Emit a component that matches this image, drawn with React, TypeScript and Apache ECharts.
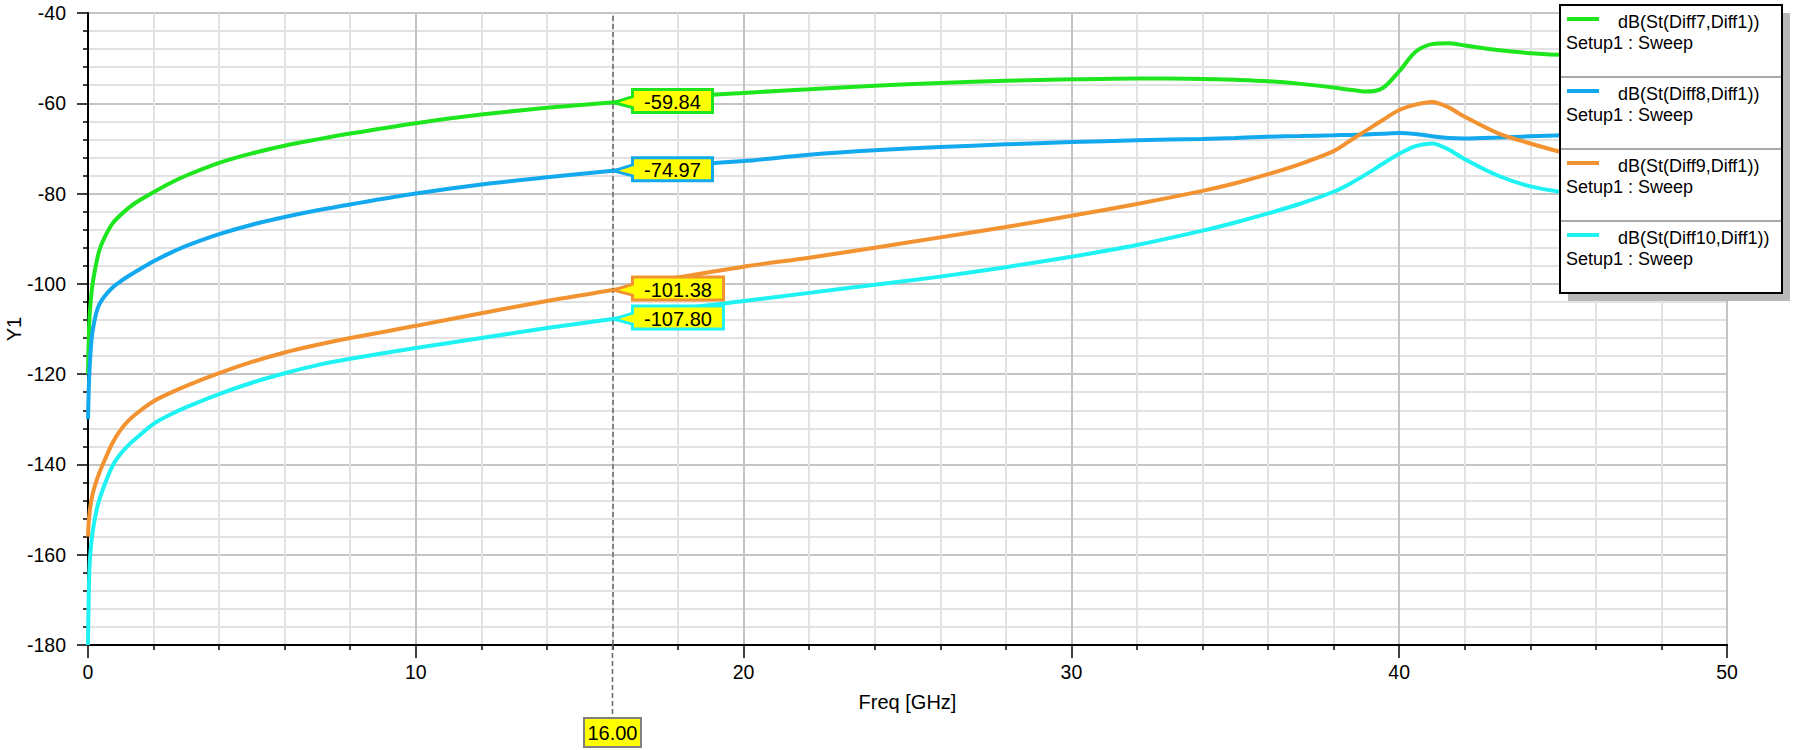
import React, { useEffect, useRef } from "react";
import * as echarts from "echarts";

const freqGHz = [0, 0.02, 0.05, 0.1, 0.15, 0.25, 0.35, 0.5, 0.75, 1, 1.25, 1.5, 2, 2.5, 3, 4, 5, 6, 7, 8, 10, 12, 14, 16, 18, 20, 22, 24, 26, 28, 30, 32, 34, 35, 36, 37, 38, 38.5, 39, 39.5, 40, 40.5, 41, 41.5, 42, 43, 44, 45, 46, 47, 48, 49, 50];

const diff7 = [-120, -113, -107, -102.5, -99.5, -95.5, -92.5, -89.8, -86.6, -84.7, -83.1, -81.8, -79.7, -77.7, -76, -73.2, -71.1, -69.4, -68, -66.7, -64.4, -62.5, -61.0, -59.84, -58.6, -57.7, -56.9, -56.1, -55.5, -55.0, -54.7, -54.5, -54.6, -54.8, -55.1, -55.7, -56.5, -57.0, -57.4, -56.6, -52.9, -48.6, -46.9, -46.7, -47.2, -48.2, -48.9, -49.3, -49.6, -49.8, -50.0, -50.2, -50.3];
const diff8 = [-130, -124, -118.5, -113, -110, -106.5, -104.5, -102.8, -100.8, -99.4, -98.2, -97.1, -95, -93.2, -91.6, -89, -86.9, -85.2, -83.7, -82.4, -80, -78, -76.4, -74.97, -73.8, -72.8, -71.4, -70.4, -69.7, -69.1, -68.6, -68.2, -67.9, -67.7, -67.4, -67.25, -67.1, -67, -66.9, -66.75, -66.6, -66.8, -67.3, -67.7, -67.8, -67.6, -67.3, -67.1, -67, -66.9, -66.8, -66.7, -66.6];
const diff9 = [-156, -153, -150.5, -148, -146.3, -143.8, -141.8, -139.2, -135.2, -132.3, -130.2, -128.6, -126, -124.2, -122.6, -119.8, -117.3, -115.2, -113.5, -112, -109.3, -106.5, -103.8, -101.38, -98.6, -96.2, -94.2, -92, -89.7, -87.4, -84.9, -82.3, -79.4, -77.7, -75.7, -73.4, -70.6, -68.3, -66, -63.7, -61.5, -60.3, -59.7, -60.9, -63, -66.6, -68.9, -70.9, -72.4, -73.5, -74.3, -75, -75.5];
const diff10 = [-180, -170, -162, -157.5, -154.5, -150.5, -147.7, -144.6, -140.3, -137.6, -135.6, -134, -131, -129, -127.3, -124.4, -121.9, -119.8, -118, -116.6, -114.2, -112, -109.8, -107.8, -105.6, -103.8, -102, -100.2, -98.4, -96.3, -94, -91.4, -88.2, -86.4, -84.4, -82.2, -79.6, -77.8, -75.7, -73.4, -71.2, -69.5, -68.9, -70.2, -72.4, -76, -78.4, -79.7, -80.5, -81, -81.4, -81.7, -82];

const seriesNames = ["dB(St(Diff7,Diff1))", "dB(St(Diff8,Diff1))", "dB(St(Diff9,Diff1))", "dB(St(Diff10,Diff1))"];
const sweepLabel = "Setup1 : Sweep";
const xAxisTitle = "Freq [GHz]";
const yAxisTitle = "Y1";
const markerFreq = 16;
const markerValues = [-59.84, -74.97, -101.38, -107.8];

const yMin = -180;
const yMax = -40;
const xMin = 0;
const xMax = 50;

const colors = ["#1ee61e", "#12a9ee", "#f29230", "#1ef2f2"];
const FONT = '"Liberation Sans", Arial, sans-serif';

export default function App() {
  const ref = useRef<HTMLDivElement>(null);

  useEffect(() => {
    if (!ref.current) return;
    const chart = echarts.init(ref.current, undefined, { renderer: "svg" });
    const allData = [diff7, diff8, diff9, diff10];

    const series = allData.map((d, i) => {
      const s: any = {
        type: "line",
        name: seriesNames[i],
        data: freqGHz.map((f, k) => [f, d[k]]),
        showSymbol: false,
        symbol: "none",
        smooth: 0.3,
        lineStyle: { color: colors[i], width: 4 },
        itemStyle: { color: colors[i] },
        z: 3,
      };
      if (i === 0) {
        s.markLine = {
          symbol: "none",
          silent: true,
          label: { show: false },
          lineStyle: { type: [5, 3], color: "#666", width: 1.5 },
          data: [{ xAxis: markerFreq }],
        };
      }
      return s;
    });

    const option: any = {
      animation: false,
      backgroundColor: "#ffffff",
      textStyle: { fontFamily: FONT },
      grid: {
        left: 88,
        right: 73,
        top: 13,
        bottom: 105,
        outerBoundsMode: "none",
        containLabel: false,
        show: true,
        borderColor: "#000",
        borderWidth: 2,
        backgroundColor: "transparent",
      },
      xAxis: {
        type: "value",
        min: xMin,
        max: xMax,
        interval: 10,
        name: xAxisTitle,
        nameLocation: "middle",
        nameGap: 47,
        nameTextStyle: { fontSize: 20, color: "#000", fontFamily: FONT },
        axisLine: { show: true, onZero: false, lineStyle: { color: "#000", width: 2 } },
        axisTick: { show: true, length: 13, lineStyle: { color: "#000", width: 1.5 } },
        minorTick: { show: true, splitNumber: 5, length: 5, lineStyle: { color: "#000", width: 1.5 } },
        axisLabel: { fontSize: 19.5, color: "#000", margin: 17, fontFamily: FONT },
        splitLine: { show: true, lineStyle: { color: "#c4c4c4", width: 2 } },
        minorSplitLine: { show: true, lineStyle: { color: "#e2e2e2", width: 2 } },
      },
      yAxis: {
        type: "value",
        min: yMin,
        max: yMax,
        interval: 20,
        axisLine: { show: true, onZero: false, lineStyle: { color: "#000", width: 2 } },
        axisTick: { show: true, length: 11, lineStyle: { color: "#000", width: 1.5 } },
        minorTick: { show: true, splitNumber: 5, length: 5, lineStyle: { color: "#000", width: 1.5 } },
        axisLabel: { fontSize: 19.5, color: "#000", margin: 22, fontFamily: FONT },
        splitLine: { show: true, lineStyle: { color: "#c4c4c4", width: 2 } },
        minorSplitLine: { show: true, lineStyle: { color: "#e2e2e2", width: 2 } },
      },
      series,
    };

    chart.setOption(option);

    const bottomPt = chart.convertToPixel({ gridIndex: 0 }, [markerFreq, yMin]) as number[];
    const mx = bottomPt[0];
    const my = bottomPt[1];
    const midY = (chart.convertToPixel({ yAxisIndex: 0 }, (yMin + yMax) / 2) as number);

    const graphics: any[] = [
      {
        type: "text",
        z: 52,
        x: 14,
        y: midY,
        rotation: Math.PI / 2,
        style: {
          text: yAxisTitle,
          fill: "#000",
          font: `20px ${FONT}`,
          align: "center",
          verticalAlign: "middle",
          textAlign: "center",
          textVerticalAlign: "middle",
        },
      },
      {
        type: "line",
        z: 50,
        shape: { x1: mx, y1: my, x2: mx, y2: 718 },
        style: { stroke: "#666", lineWidth: 1.5, lineDash: [5, 3] },
      },
      {
        type: "rect",
        z: 51,
        shape: { x: mx - 28.5, y: 718, width: 57, height: 29 },
        style: { fill: "#ffff00", stroke: "#808080", lineWidth: 2 },
      },
      {
        type: "text",
        z: 52,
        x: mx,
        y: 733,
        style: {
          text: markerFreq.toFixed(2),
          fill: "#000",
          font: `20px ${FONT}`,
          align: "center",
          verticalAlign: "middle",
          textAlign: "center",
          textVerticalAlign: "middle",
        },
      },
    ];

    // marker callouts
    markerValues.forEach((v, i) => {
      const p = chart.convertToPixel({ gridIndex: 0 }, [markerFreq, v]) as number[];
      const label = v.toFixed(2);
      const boxW = Math.round(11.3 * label.length + 12);
      const px = p[0];
      const py = p[1];
      const bx = px + 20;
      const top = py - 13;
      const bot = py + 10;
      graphics.push({
        type: "polygon",
        z: 40,
        shape: {
          points: [
            [px + 1, py],
            [bx, py - 6],
            [bx, top],
            [bx + boxW, top],
            [bx + boxW, bot],
            [bx, bot],
            [bx, py + 5],
          ],
        },
        style: { fill: "#ffff00", stroke: colors[i], lineWidth: 3, lineJoin: "miter" },
      });
      graphics.push({
        type: "text",
        z: 41,
        x: bx + boxW / 2,
        y: (top + bot) / 2 + 1,
        style: {
          text: label,
          fill: "#000",
          font: `20px ${FONT}`,
          align: "center",
          verticalAlign: "middle",
          textAlign: "center",
          textVerticalAlign: "middle",
        },
      });
    });

    // legend box
    const legendX = 1560;
    const legendY = 5;
    const legendW = 222;
    const rowH = 72;
    const legendH = rowH * seriesNames.length;

    graphics.push(
      {
        type: "rect",
        z: 60,
        shape: { x: legendX + 8, y: legendY + 8, width: legendW, height: legendH },
        style: { fill: "#b8b8b8", stroke: "none" },
      },
      {
        type: "rect",
        z: 61,
        shape: { x: legendX, y: legendY, width: legendW, height: legendH },
        style: { fill: "#ffffff", stroke: "#000", lineWidth: 2 },
      }
    );

    seriesNames.forEach((name, i) => {
      const top = legendY + i * rowH;
      if (i > 0) {
        graphics.push({
          type: "line",
          z: 62,
          shape: { x1: legendX + 1, y1: top, x2: legendX + legendW - 1, y2: top },
          style: { stroke: "#a8a8a8", lineWidth: 2 },
        });
      }
      graphics.push({
        type: "line",
        z: 62,
        shape: { x1: legendX + 7, y1: top + 14, x2: legendX + 39, y2: top + 14 },
        style: { stroke: colors[i], lineWidth: 4 },
      });
      graphics.push({
        type: "text",
        z: 62,
        x: legendX + 58,
        y: top + 17,
        style: {
          text: name,
          fill: "#000",
          font: `18px ${FONT}`,
          align: "left",
          verticalAlign: "middle",
          textAlign: "left",
          textVerticalAlign: "middle",
        },
      });
      graphics.push({
        type: "text",
        z: 62,
        x: legendX + 6,
        y: top + 38,
        style: {
          text: sweepLabel,
          fill: "#000",
          font: `18px ${FONT}`,
          align: "left",
          verticalAlign: "middle",
          textAlign: "left",
          textVerticalAlign: "middle",
        },
      });
    });

    chart.setOption({ graphic: graphics });

    return () => {
      chart.dispose();
    };
  }, []);

  return (
    <div
      ref={ref}
      style={{ position: "absolute", left: 0, top: 0, width: 1800, height: 750, background: "#fff" }}
    />
  );
}
